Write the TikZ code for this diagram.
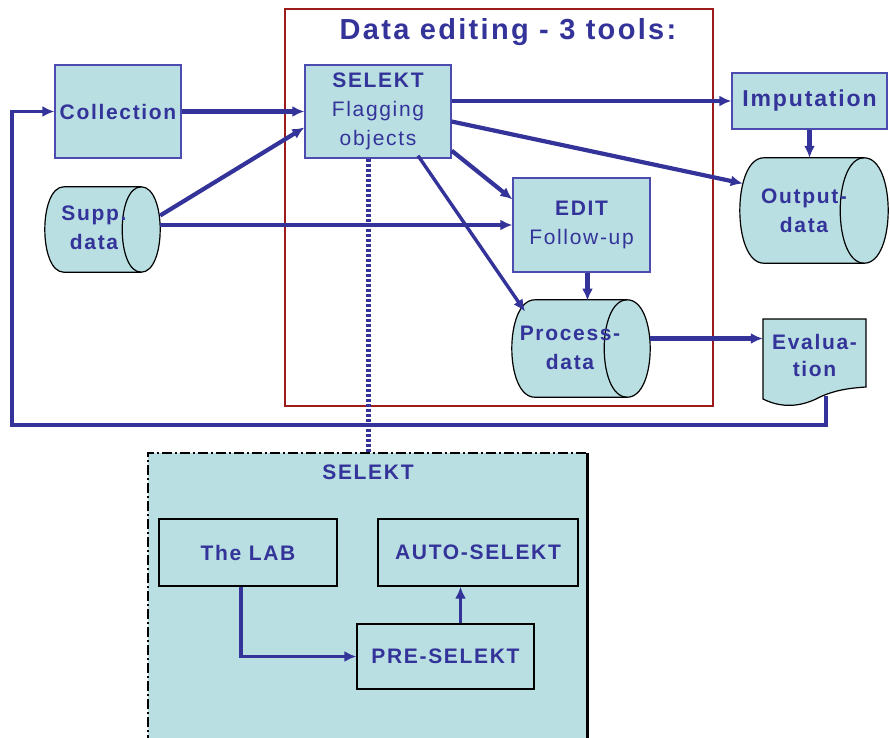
\documentclass[tikz,border=0pt]{standalone}
\usepackage{fontspec}
\setmainfont{Liberation Sans}[LetterSpace=8]
\usetikzlibrary{arrows.meta,positioning,calc}
\definecolor{ink}{HTML}{333399}
\definecolor{aqua}{HTML}{B9DFE2}
\definecolor{frame}{HTML}{9C1C1C}
\definecolor{edge}{HTML}{4B4BB0}

% lying drum round node #1, end radius #2 (pt)
\newcommand\drum[2]{%
  \draw[black,line width=1.2pt,fill=aqua] let \p1=(#1.north west), \p2=(#1.south east) in
    (\x1+#2pt,\y1) -- (\x2-#2pt,\y1)
    .. controls (\x2+0.333*#2pt,\y1) and (\x2+0.333*#2pt,\y2) .. (\x2-#2pt,\y2)
    -- (\x1+#2pt,\y2)
    .. controls (\x1-0.333*#2pt,\y2) and (\x1-0.333*#2pt,\y1) .. cycle;
  \draw[black,line width=1.2pt] let \p1=(#1.north west), \p2=(#1.south east) in
    (\x2-#2pt,\y1)
    .. controls (\x2-2.333*#2pt,\y1) and (\x2-2.333*#2pt,\y2) .. (\x2-#2pt,\y2);
}

\tikzset{
  box/.style={draw=edge,line width=1.3pt,fill=aqua,inner sep=0pt,text=ink,align=center,
    font=\fontsize{21}{29}\selectfont},
  subbox/.style={draw=black,line width=1.3pt,fill=aqua,inner sep=0pt,text=ink,
    font=\bfseries\fontsize{21}{26}\selectfont},
  store/.style={inner sep=0pt},
  storetext/.style={text=ink,align=center,inner sep=0pt,font=\bfseries\fontsize{21}{29}\selectfont},
  flow/.style={ink,line width=4.2pt,-{Latex[length=12pt,width=11pt]}},
}

\begin{document}
\begin{tikzpicture}[x=1pt,y=-1pt]
  \useasboundingbox (0,0) rectangle (890,737);

  % frame round the three editing tools
  \node[draw=frame,line width=1.5pt,minimum width=428pt,minimum height=397pt,inner sep=0pt,
    anchor=north west] (editing) at (284,8) {};
  \node[text=ink,font=\bfseries\fontsize{29}{32}\selectfont] (title) at (508,32) {Data editing - 3 tools:};

  % boxes
  \node[box,minimum width=126pt,minimum height=93pt] (collect) at (118,111.5) {\bfseries Collection};
  \node[box,minimum width=146pt,minimum height=93pt] (selekt) at (378,111.5)
    {\bfseries SELEKT\\Flagging\\objects};
  \node[box,minimum width=155pt,minimum height=56pt] (imput) at (809.5,101)
    {\bfseries\fontsize{23}{29}\selectfont Imputation};
  \node[box,minimum width=137pt,minimum height=94pt] (edit) at (581.5,225) {\bfseries EDIT\\Follow-up};

  % data stores
  \node[store,minimum width=115pt,minimum height=85pt] (supp) at (102.5,229.5) {};
  \drum{supp}{19}
  \node[storetext] (supptext) at (94,228) {Supp.\\data};
  \node[store,minimum width=148pt,minimum height=105pt] (output) at (814,210.5) {};
  \drum{output}{24}
  \node[storetext] (outtext) at (804,211) {Output-\\data};
  \node[store,minimum width=138pt,minimum height=97pt] (process) at (581,348.5) {};
  \drum{process}{23}
  \node[storetext] (proctext) at (570,347.5) {Process-\\data};

  % evaluation sheet
  \draw[black,line width=1.2pt,fill=aqua] (763,319) -- (866,319) -- (866,387)
    .. controls (850,388) and (835,390) .. (820,397)
    .. controls (805,405) and (785,410) .. (763,399) -- cycle;
  \node[inner sep=0pt,text=ink,align=center,minimum width=103pt,minimum height=70pt,
    font=\bfseries\fontsize{21}{27}\selectfont] (eval) at (814.5,355.5) {Evalua-\\tion};
  \coordinate (evalfoot) at (826,396);
  \coordinate (loop) at (12,425);

  % flows
  \draw[flow] (collect.east) -- (selekt.west);
  \draw[flow] ($(supp.east)+(0,-14)$) -- ($(selekt.west)+(0,16)$);
  \draw[flow] (supp.east |- edit.west) -- (edit.west);
  \draw[flow,line width=3.4pt] (selekt.east |- imput.west) -- (imput.west);
  \draw[flow] ($(selekt.east)+(0,10)$) -- ($(output.west)+(3,-27)$);
  \draw[flow] ($(selekt.south east)+(0,-8)$) -- ($(edit.north west)+(0,22)$);
  \draw[flow,line width=3.4pt] ($(selekt.south)+(40,-3)$) -- ($(process.center)+(-56,-37)$);
  \draw[flow] ($(edit.south)+(6,0)$) -- ($(edit.south)+(6,28)$);
  \draw[flow] (imput.south) -- (imput.south |- output.north);
  \draw[flow] ($(process.east)+(0,-10)$) -- (eval.west |- {$(process.east)+(0,-10)$});
  \draw[flow,line width=3.4pt] (evalfoot) |- (loop) |- (collect.west);

  % SELEKT opened up
  \node[fill=aqua,minimum width=439pt,minimum height=292pt,inner sep=0pt,anchor=north west]
    (tools) at (148,453) {};
  \draw[black,line width=1.2pt,dash pattern=on 10pt off 3pt on 2pt off 3pt]
    (tools.south west) -- (tools.north west) -- (tools.north east);
  \draw[black,line width=2.4pt] (tools.north east) -- (tools.south east);
  \coordinate (tap) at ($(selekt.south)+(-10,0)$);
  \draw[ink,line width=5pt,dash pattern=on 3pt off 2pt] (tap) -- (tap |- tools.north);
  \node[text=ink,font=\bfseries\fontsize{21}{26}\selectfont] (toolname) at (368,472) {SELEKT};

  \node[subbox,minimum width=178pt,minimum height=67pt] (lab) at (248,552.5) {The LAB};
  \node[subbox,minimum width=200pt,minimum height=67pt] (auto) at (478,552.5) {AUTO-SELEKT};
  \node[subbox,minimum width=177pt,minimum height=65pt] (pre) at (445.5,656.5) {PRE-SELEKT};

  \coordinate (labfoot) at ($(lab.south)+(-7,0)$);
  \coordinate (preup) at ($(pre.north)+(15,0)$);
  \draw[flow,line width=3.4pt] (labfoot) |- (pre.west);
  \draw[flow,line width=3.4pt] (preup) -- (preup |- auto.south);
\end{tikzpicture}
\end{document}
